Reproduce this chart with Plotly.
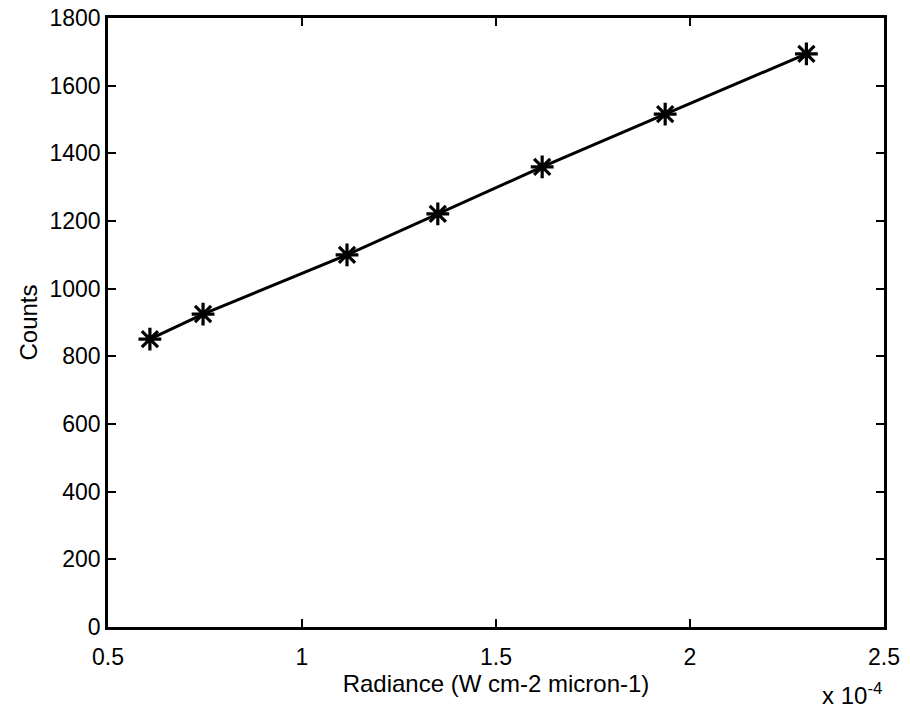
import plotly.graph_objects as go

radiance = [0.608, 0.745, 1.116, 1.350, 1.619, 1.936, 2.300]  # x 1e-4
counts = [851, 925, 1100, 1221, 1360, 1516, 1694]
x_ticks = [0.5, 1, 1.5, 2, 2.5]
x_tick_labels = ["0.5", "1", "1.5", "2", "2.5"]
y_ticks = [0, 200, 400, 600, 800, 1000, 1200, 1400, 1600, 1800]

font = "Liberation Sans, Arial, sans-serif"

fig = go.Figure()
fig.add_trace(go.Scatter(
    x=radiance, y=counts, mode="lines+markers",
    line=dict(color="black", width=3),
    marker=dict(symbol="asterisk-open", size=19, color="black",
                line=dict(color="black", width=3.2)),
    showlegend=False,
))

axis_common = dict(
    showline=True, linecolor="black", linewidth=2.5, mirror="ticks",
    ticks="inside", ticklen=8, tickwidth=2, tickcolor="black",
    showgrid=False, zeroline=False, automargin=False,
    tickfont=dict(family=font, size=23, color="black"),
)

fig.update_xaxes(range=[0.5, 2.5], tickvals=x_ticks, ticktext=x_tick_labels,
                 ticklabelstandoff=8,
                 title=dict(text="Radiance (W cm-2 micron-1)",
                            font=dict(family=font, size=24, color="black"),
                            standoff=5),
                 **axis_common)
fig.update_yaxes(range=[0, 1800], tickvals=y_ticks,
                 title=dict(text="Counts",
                            font=dict(family=font, size=24, color="black"),
                            standoff=6),
                 **axis_common)

fig.add_annotation(text="x 10<sup>-4</sup>", xref="paper", yref="paper",
                   x=1.0, y=-0.138, xanchor="right", yanchor="bottom",
                   showarrow=False,
                   font=dict(family=font, size=24, color="black"))

fig.update_layout(
    width=910, height=711,
    margin=dict(l=108, r=26, t=18, b=84),
    paper_bgcolor="white", plot_bgcolor="white",
)

fig.write_html("out.html")
